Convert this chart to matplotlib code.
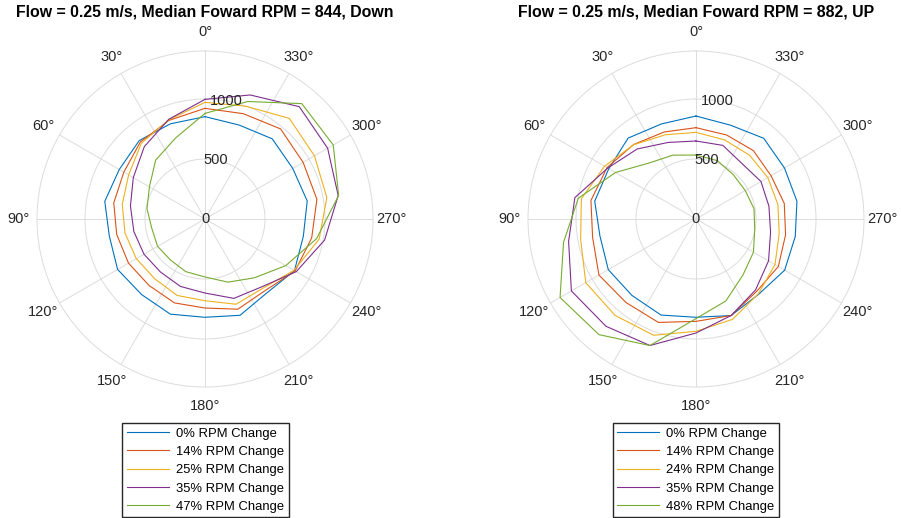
import numpy as np
import matplotlib
matplotlib.use('Agg')
import matplotlib.pyplot as plt

plt.rcParams['font.family'] = ['Liberation Sans', 'DejaVu Sans']

# Angles of the measured points (deg), counterclockwise from top.
angles = [0, 20, 40, 60, 80, 100, 120, 140, 160, 180, 200, 220, 240, 260, 280, 300, 320, 340]

# Down run, RPM per angle.
down_labels = ['0% RPM Change', '14% RPM Change', '25% RPM Change', '35% RPM Change', '47% RPM Change']
down_0 = [853, 844, 853, 825, 848, 810, 841, 822, 844, 819, 854, 803, 861, 832, 865, 844, 872, 833]
down_14 = [922, 875, 838, 781, 772, 747, 736, 724, 744, 742, 800, 779, 867, 903, 947, 944, 980, 934]
down_25 = [972, 880, 825, 735, 700, 677, 661, 651, 678, 681, 756, 752, 856, 966, 1031, 1053, 1094, 1000]
down_35 = [997, 884, 787, 690, 631, 602, 587, 577, 598, 617, 704, 737, 878, 1012, 1127, 1180, 1222, 1100]
down_47 = [880, 718, 640, 535, 491, 450, 456, 447, 467, 483, 560, 640, 777, 944, 1131, 1234, 1255, 1042]

# Up run
up_labels = ['0% RPM Change', '14% RPM Change', '24% RPM Change', '35% RPM Change', '48% RPM Change']
up_0 = [858, 843, 880, 839, 857, 813, 844, 831, 852, 819, 856, 816, 853, 840, 854, 851, 878, 833]
up_14 = [761, 772, 810, 856, 889, 875, 934, 908, 917, 853, 856, 787, 792, 758, 747, 722, 744, 745]
up_24 = [722, 747, 808, 880, 970, 976, 1061, 1049, 1031, 936, 890, 811, 760, 704, 693, 691, 694, 701]
up_35 = [650, 679, 762, 849, 1025, 1078, 1199, 1167, 1122, 950, 856, 772, 698, 631, 617, 625, 600, 653]
up_48 = [533, 566, 609, 775, 996, 1121, 1308, 1258, 1122, 830, 727, 609, 553, 497, 491, 474, 483, 518]

titles = ['Flow = 0.25 m/s, Median Foward RPM = 844, Down',
          'Flow = 0.25 m/s, Median Foward RPM = 882, UP']
rticks = [0, 500, 1000]
thetaticks = list(range(0, 360, 30))
colors = ['#0072BD', '#D95319', '#EDB120', '#7E2F8E', '#77AC30']
txtcol = '#262626'
gridcol = '#dcdcdc'

fig = plt.figure(figsize=(9.01, 5.18), dpi=100)

def polar_panel(rect, series, labels, title, leg_x):
    ax = fig.add_axes(rect, projection='polar')
    ax.set_theta_zero_location('N')
    ax.set_theta_direction(1)
    th = np.deg2rad(angles + [angles[0]])
    for vals, lab, c in zip(series, labels, colors):
        ax.plot(th, vals + [vals[0]], color=c, lw=0.8, label=lab)
    ax.set_rlim(0, 1400)
    ax.set_rticks(rticks)
    ax.set_yticklabels([])
    for r in rticks:
        ax.text(np.deg2rad(350), r, str(r), ha='center', va='center',
                fontsize=10.5, color=txtcol)
    ax.set_thetagrids(thetaticks, [f'{t}°' for t in thetaticks])
    ax.tick_params(axis='x', pad=3, labelsize=10.5, colors=txtcol)
    ax.grid(color=gridcol, lw=0.7)
    ax.spines['polar'].set_color(gridcol)
    ax.spines['polar'].set_linewidth(0.7)
    ax.set_title(title, fontsize=11.4, fontweight='bold', y=1.102, pad=0)
    fig.legend(handles=ax.get_lines(), loc='upper center',
               bbox_to_anchor=(leg_x, 1 - 423 / 518), fontsize=9.4,
               frameon=True, fancybox=False, edgecolor=txtcol, framealpha=1,
               handlelength=3.2, handletextpad=0.55, labelspacing=0.47,
               borderpad=0.35, borderaxespad=0)
    return ax

w, h = 336 / 901, 336 / 518
bottom = (518 - 387) / 518
polar_panel([37 / 901, bottom, w, h], [down_0, down_14, down_25, down_35, down_47],
            down_labels, titles[0], 205.5 / 901)
polar_panel([528 / 901, bottom, w, h], [up_0, up_14, up_24, up_35, up_48],
            up_labels, titles[1], 696 / 901)

fig.savefig('out.png', dpi=100)
